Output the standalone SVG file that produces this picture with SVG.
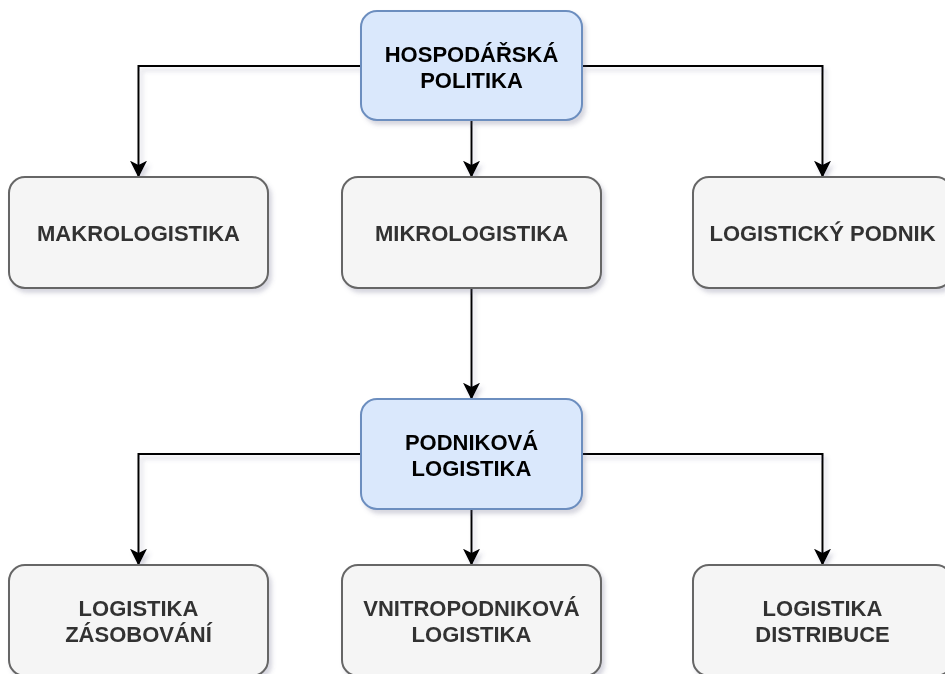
<svg xmlns="http://www.w3.org/2000/svg" width="945" height="674" viewBox="0 0 945 674">
<defs>
<filter id="sh" x="-10%" y="-10%" width="130%" height="130%">
<feDropShadow dx="3" dy="4" stdDeviation="2" flood-color="#5a5a80" flood-opacity="0.25"/>
</filter>
<marker id="arr" viewBox="0 0 10 10" refX="9" refY="5" markerWidth="8.5" markerHeight="8.5" markerUnits="strokeWidth" orient="auto">
<path d="M0,0 L10,5 L0,10 L2.5,5 Z" fill="#000"/>
</marker>
<style>
.g rect{fill:#f5f5f5;stroke:#666666;stroke-width:2}
.b rect{fill:#dae8fc;stroke:#6c8ebf;stroke-width:2}
text{font-family:"Liberation Sans",Arial,sans-serif;font-weight:bold;font-size:22px;text-anchor:middle}
.g text{fill:#333333}
.b text{fill:#000000}
#connectors path{fill:none;stroke:#000;stroke-width:2;marker-end:url(#arr)}
</style>
</defs>
<rect width="945" height="674" fill="#ffffff"/>
<g id="connectors" filter="url(#sh)">
<path d="M361,66 H138.5 V176"/>
<path d="M471.5,121 V176"/>
<path d="M582,66 H822.5 V176"/>
<path d="M471.5,288 V398"/>
<path d="M361,454 H138.5 V564"/>
<path d="M471.5,509 V564"/>
<path d="M582,454 H822.5 V564"/>
</g>
<g id="hospodarska" class="b" filter="url(#sh)">
<rect x="361" y="11" width="221" height="109" rx="16"/>
<text x="471.5" y="61.5">HOSPODÁŘSKÁ</text>
<text x="471.5" y="87.5">POLITIKA</text>
</g>
<g id="makro" class="g" filter="url(#sh)">
<rect x="9" y="177" width="259" height="111" rx="16"/>
<text x="138.5" y="241">MAKROLOGISTIKA</text>
</g>
<g id="mikro" class="g" filter="url(#sh)">
<rect x="342" y="177" width="259" height="111" rx="16"/>
<text x="471.5" y="241">MIKROLOGISTIKA</text>
</g>
<g id="podnik" class="g" filter="url(#sh)">
<rect x="693" y="177" width="259" height="111" rx="16"/>
<text x="822.5" y="241">LOGISTICKÝ PODNIK</text>
</g>
<g id="podnikova" class="b" filter="url(#sh)">
<rect x="361" y="399" width="221" height="110" rx="16"/>
<text x="471.5" y="449.5">PODNIKOVÁ</text>
<text x="471.5" y="475.5">LOGISTIKA</text>
</g>
<g id="zasobovani" class="g" filter="url(#sh)">
<rect x="9" y="565" width="259" height="111" rx="16"/>
<text x="138.5" y="615.5">LOGISTIKA</text>
<text x="138.5" y="641.5">ZÁSOBOVÁNÍ</text>
</g>
<g id="vnitro" class="g" filter="url(#sh)">
<rect x="342" y="565" width="259" height="111" rx="16"/>
<text x="471.5" y="615.5">VNITROPODNIKOVÁ</text>
<text x="471.5" y="641.5">LOGISTIKA</text>
</g>
<g id="distribuce" class="g" filter="url(#sh)">
<rect x="693" y="565" width="259" height="111" rx="16"/>
<text x="822.5" y="615.5">LOGISTIKA</text>
<text x="822.5" y="641.5">DISTRIBUCE</text>
</g>
</svg>
